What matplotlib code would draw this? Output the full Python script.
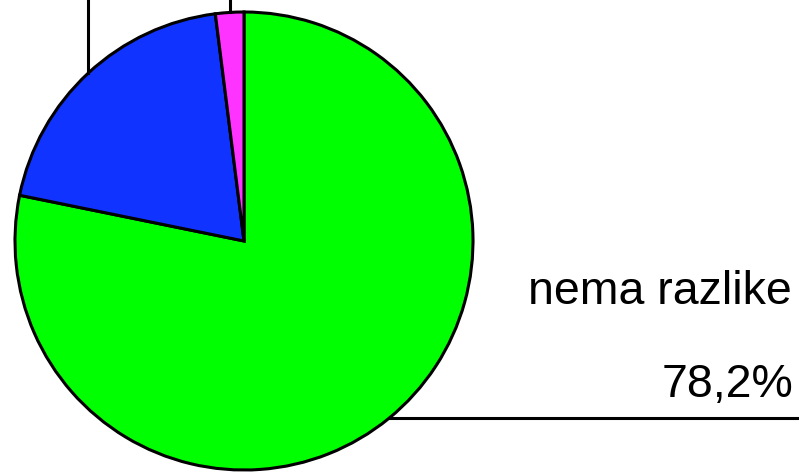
import numpy as np
import matplotlib
matplotlib.use("Agg")
from matplotlib import pyplot as plt

# pie data
labels = ["nema razlike", "veća", "manja"]
shares = [78.2, 19.8, 2.0]
colors = ["#00FF00", "#1033FF", "#FF33FF"]

W, H = 799, 472
center = (244, H - 241)
radius = 229

fig = plt.figure(figsize=(W / 100, H / 100), dpi=100)
ax = fig.add_axes([0, 0, 1, 1])
ax.set_xlim(0, W)
ax.set_ylim(0, H)
ax.set_aspect("equal")
ax.axis("off")

wedges, _ = ax.pie(shares, colors=colors, startangle=90, counterclock=False,
                   center=center, radius=radius,
                   wedgeprops=dict(edgecolor="black", linewidth=2.2))
ax.set_xlim(0, W)
ax.set_ylim(0, H)

# leader lines start at the middle of each wedge's arc
for i, w in enumerate(wedges):
    mid = np.deg2rad((w.theta1 + w.theta2) / 2)
    x0 = center[0] + radius * np.cos(mid)
    y0 = center[1] + radius * np.sin(mid)
    if i == 0:
        ax.plot([x0, W + 5], [y0, y0], color="black", lw=2.2, clip_on=False)
    else:
        ax.plot([x0, x0], [y0, H + 5], color="black", lw=2.2, clip_on=False)

font = dict(family=["Liberation Sans", "DejaVu Sans"], fontsize=33.5, color="black")
ax.text(792, H - 304, labels[0], ha="right", va="baseline", **font)
ax.text(793, H - 397, f"{shares[0]:.1f}".replace(".", ",") + "%",
        ha="right", va="baseline", **font)

fig.savefig("out.png", dpi=100)
